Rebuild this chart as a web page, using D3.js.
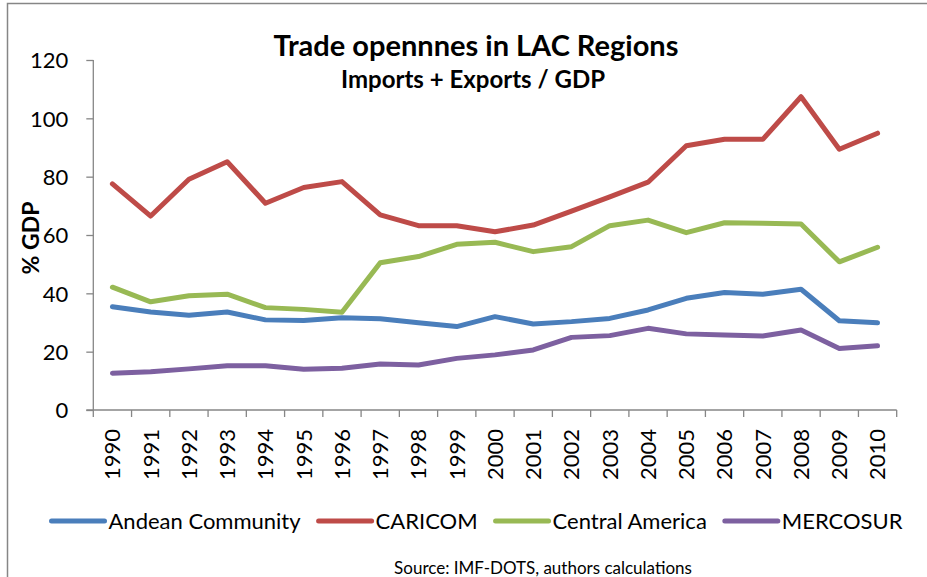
<!DOCTYPE html>
<html>
<head>
<meta charset="utf-8">
<script src="https://cdn.jsdelivr.net/npm/d3@7"></script>
<style>
  body { margin: 0; background: #fff; }
  text { font-family: Lato, "Open Sans", sans-serif; fill: #000; }
</style>
</head>
<body>
<div id="chart"></div>
<script>
// data
var years = ["1990","1991","1992","1993","1994","1995","1996","1997","1998","1999","2000",
             "2001","2002","2003","2004","2005","2006","2007","2008","2009","2010"];
var seriesNames = ["Andean Community", "CARICOM", "Central America", "MERCOSUR"];
var andean   = [35.4, 33.6, 32.5, 33.6, 30.9, 30.7, 31.6, 31.3, 29.9, 28.6, 32.0, 29.5, 30.3, 31.4, 34.3, 38.3, 40.3, 39.7, 41.4, 30.6, 29.9];
var caricom  = [77.5, 66.5, 79.1, 85.1, 70.9, 76.3, 78.3, 66.9, 63.2, 63.2, 61.1, 63.4, 68.2, 73.1, 78.1, 90.6, 92.8, 92.8, 107.4, 89.4, 94.9];
var central  = [42.1, 37.1, 39.2, 39.7, 35.1, 34.5, 33.5, 50.5, 52.6, 56.8, 57.5, 54.3, 56.0, 63.2, 65.1, 60.8, 64.2, 64.0, 63.8, 50.8, 55.8];
var mercosur = [12.6, 13.1, 14.1, 15.2, 15.2, 14.0, 14.3, 15.8, 15.4, 17.7, 18.9, 20.6, 24.9, 25.5, 28.0, 26.1, 25.7, 25.4, 27.4, 21.1, 22.0];
var yTicks = [0, 20, 40, 60, 80, 100, 120];

var W = 927, H = 577;
var margin = {top: 60, left: 93.3, right: W - 896.7, bottom: H - 410};
var width = W - margin.left - margin.right,
    height = H - margin.top - margin.bottom;

var svg = d3.select("#chart").append("svg")
  .attr("width", W).attr("height", H);

// outer chart border (runs off the right and bottom edges)
svg.append("rect")
  .attr("x", 7.5).attr("y", 3.5)
  .attr("width", W + 20).attr("height", H + 20)
  .attr("fill", "none").attr("stroke", "#868686").attr("stroke-width", 1.5);

var g = svg.append("g")
  .attr("transform", "translate(" + margin.left + "," + margin.top + ")");

var x = d3.scaleBand().domain(years).range([0, width]);
var y = d3.scaleLinear().domain([0, 120]).range([height, 0]);
var color = d3.scaleOrdinal().domain(seriesNames)
  .range(["#4A7EBB", "#BE4B48", "#98B954", "#7D60A0"]);

var dataReady = [andean, caricom, central, mercosur].map(function(vals, i) {
  return {name: seriesNames[i], values: vals.map(function(v, j) { return {year: years[j], value: v}; })};
});

// Y axis
var yAxis = g.append("g")
  .call(d3.axisLeft(y).tickValues(yTicks).tickSize(7).tickPadding(18));
yAxis.selectAll("text").style("font-size", "22px").attr("dy", "0.36em");

// X axis: labels at band centres, ticks on band edges
var xAxis = g.append("g")
  .attr("transform", "translate(0," + height + ")")
  .call(d3.axisBottom(x).tickSize(0).tickPadding(0));
xAxis.selectAll("text")
  .attr("transform", "rotate(-90)")
  .attr("x", -19).attr("y", 0).attr("dy", "0.36em")
  .style("text-anchor", "end")
  .style("font-size", "22px");
xAxis.selectAll(".tickEdge")
  .data(years.concat(["end"]))
  .enter().append("line")
    .attr("class", "tickEdge")
    .attr("x1", function(d) { return d === "end" ? width : x(d); })
    .attr("x2", function(d) { return d === "end" ? width : x(d); })
    .attr("y1", 0).attr("y2", 7);

g.selectAll(".domain, .tick line, .tickEdge")
  .attr("stroke", "#868686").attr("stroke-width", 1.3);
yAxis.select(".domain").attr("d", "M0,0V" + height);
xAxis.select(".domain").attr("d", "M-7,0H" + width);

// y axis title
svg.append("text")
  .attr("transform", "translate(31," + (margin.top + 178) + ") rotate(-90)")
  .attr("text-anchor", "middle").attr("dy", "0.36em")
  .style("font-size", "23px").style("font-weight", "bold")
  .text("% GDP");

// lines
var line = d3.line()
  .x(function(d) { return x(d.year) + x.bandwidth() / 2; })
  .y(function(d) { return y(d.value); });
g.selectAll("myLines")
  .data(dataReady)
  .enter()
  .append("path")
    .attr("d", function(d) { return line(d.values); })
    .attr("stroke", function(d) { return color(d.name); })
    .style("stroke-width", 5)
    .style("stroke-linecap", "round")
    .style("stroke-linejoin", "round")
    .style("fill", "none");

// titles
svg.append("text")
  .attr("x", 476).attr("y", 56)
  .attr("text-anchor", "middle")
  .style("font-size", "29px").style("font-weight", "bold")
  .text("Trade opennnes in LAC Regions");
svg.append("text")
  .attr("x", 473).attr("y", 88)
  .attr("text-anchor", "middle")
  .style("font-size", "24px").style("font-weight", "bold")
  .text("Imports + Exports / GDP");

// legend
var legend = svg.append("g").attr("transform", "translate(0,521)");
var items = legend.selectAll("myLegend")
  .data(seriesNames)
  .enter().append("g");
items.append("line")
  .attr("x1", 0).attr("x2", 53).attr("y1", 0).attr("y2", 0)
  .attr("stroke", function(d) { return color(d); })
  .style("stroke-width", 5).style("stroke-linecap", "round");
items.append("text")
  .attr("x", 57).attr("dy", "0.36em")
  .style("font-size", "22px")
  .text(function(d) { return d; });
var gap = 18, pos = 0, starts = [];
items.each(function() {
  starts.push(pos);
  pos += 57 + d3.select(this).select("text").node().getComputedTextLength() + gap;
});
var total = pos - gap, left = 477 - total / 2;
items.attr("transform", function(d, i) { return "translate(" + (left + starts[i]) + ",0)"; });

// source
svg.append("text")
  .attr("x", 543).attr("y", 568).attr("dy", "0.36em")
  .attr("text-anchor", "middle")
  .style("font-size", "17px")
  .text("Source: IMF-DOTS, authors calculations");
</script>
</body>
</html>
